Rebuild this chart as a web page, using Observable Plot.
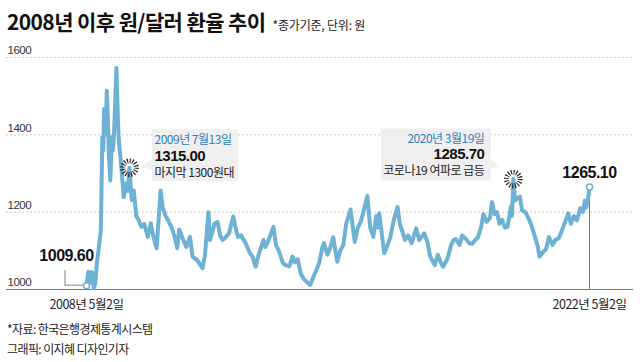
<!DOCTYPE html>
<html><head><meta charset="utf-8">
<script src="https://cdn.jsdelivr.net/npm/d3@7"></script>
<script src="https://cdn.jsdelivr.net/npm/@observablehq/plot@0.6"></script>
<style>
body{margin:0;background:#fff;}
#wrap{position:relative;width:640px;height:362px;overflow:hidden;font-family:"Noto Sans CJK KR",sans-serif;}
#title{position:absolute;left:7px;top:6px;font-size:21px;line-height:30px;font-weight:700;letter-spacing:-0.6px;color:#111;white-space:nowrap;}
#title span{font-size:12px;font-weight:400;letter-spacing:-0.2px;margin-left:7px;color:#222;}
#chart{position:absolute;left:0;top:40px;}
.cap{position:absolute;left:7px;font-size:12px;line-height:18px;letter-spacing:-0.6px;color:#222;white-space:nowrap;}
</style></head><body>
<div id="wrap">
<div id="title">2008년 이후 원/달러 환율 추이<span>*종가기준, 단위: 원</span></div>
<div id="chart"></div>
<div class="cap" style="top:320px">*자료: 한국은행경제통계시스템</div>
<div class="cap" style="top:340px">그래픽: 이지혜 디자인기자</div>
</div>
<script>
// ---- data ----
const dates = [
"2008-05-02","2008-05-20","2008-06-10","2008-06-25","2008-07-15","2008-07-30","2008-08-15","2008-09-05","2008-09-25","2008-10-10","2008-10-20","2008-10-28","2008-11-10","2008-11-18","2008-11-24","2008-12-05","2008-12-15","2008-12-30",
"2009-01-15","2009-01-25","2009-02-01","2009-02-10","2009-02-20","2009-03-02","2009-03-10","2009-03-20","2009-03-27","2009-04-05","2009-04-20","2009-05-15","2009-06-05","2009-06-25","2009-07-13","2009-08-05","2009-08-25","2009-09-20","2009-10-15","2009-11-10","2009-12-10",
"2010-01-15","2010-02-15","2010-03-10","2010-04-15","2010-05-25","2010-06-15","2010-07-15","2010-08-10","2010-09-15","2010-10-15","2010-11-10","2010-11-30","2010-12-30",
"2011-02-10","2011-03-20","2011-04-15","2011-06-01","2011-07-25","2011-08-20","2011-09-23","2011-10-10","2011-11-25","2011-12-25",
"2012-01-20","2012-02-15","2012-03-20","2012-04-20","2012-06-01","2012-06-25","2012-07-20","2012-08-20","2012-10-05","2012-11-15","2012-12-15",
"2013-01-15","2013-02-15","2013-04-05","2013-04-25","2013-05-15","2013-07-15","2013-08-10","2013-09-05","2013-10-20","2013-11-15","2013-12-25",
"2014-01-25","2014-02-20","2014-03-20","2014-04-20","2014-05-25","2014-07-25","2014-08-20","2014-09-25","2014-10-25","2014-11-25","2014-12-10",
"2015-01-15","2015-02-15","2015-03-15","2015-04-25","2015-05-25","2015-06-25","2015-07-25","2015-09-07","2015-10-20","2015-11-20","2015-12-20",
"2016-01-25","2016-02-25","2016-03-25","2016-04-25","2016-05-25","2016-06-10","2016-06-25","2016-07-25","2016-08-15","2016-09-10","2016-10-15","2016-11-20","2016-12-28",
"2017-01-20","2017-03-15","2017-04-15","2017-05-20","2017-07-05","2017-08-05","2017-09-25","2017-10-25","2017-11-25",
"2018-01-10","2018-02-10","2018-03-15","2018-04-05","2018-05-20","2018-06-25","2018-07-20","2018-08-15","2018-09-20","2018-10-15","2018-11-25","2018-12-25",
"2019-01-25","2019-02-25","2019-03-25","2019-04-25","2019-05-20","2019-06-20","2019-07-25","2019-08-15","2019-09-10","2019-10-05","2019-10-30","2019-11-25","2019-12-25",
"2020-01-20","2020-02-25","2020-03-05","2020-03-19","2020-04-05","2020-04-25","2020-05-25","2020-06-15","2020-07-20","2020-08-20","2020-09-20","2020-10-25","2020-11-25","2020-12-10",
"2021-01-10","2021-02-15","2021-03-15","2021-04-20","2021-05-20","2021-06-25","2021-07-25","2021-08-20","2021-09-28","2021-10-25","2021-11-25","2021-12-25",
"2022-01-28","2022-02-25","2022-03-15","2022-03-30","2022-04-25","2022-05-02"
];
const values = [
1009.6,1046,1018,1045,1003,1015,1068,1110,1153,1394,1360,1467,1400,1460,1514,1445,1350,1282,
1394,1360,1378,1430,1500,1573,1500,1420,1385,1360,1320,1239,1274,1255,1315,1231,1256,1190,1179,1162,1170,
1136,1171,1140,1107,1256,1213,1190,1179,1160,1136,1107,1155,1136,
1110,1136,1085,1076,1055,1090,1200,1128,1170,1175,
1140,1128,1136,1145,1189,1160,1136,1140,1120,1095,1085,
1059,1090,1128,1110,1120,1162,1115,1102,1068,1063,1060,
1085,1070,1078,1040,1025,1012,1030,1050,1070,1110,1120,
1090,1110,1135,1072,1100,1115,1170,1207,1123,1160,1175,
1210,1242,1160,1136,1190,1160,1197,1135,1094,1110,1135,1180,1213,
1170,1128,1140,1120,1158,1128,1145,1125,1085,
1063,1090,1068,1059,1080,1115,1128,1130,1115,1140,1130,1120,
1118,1128,1135,1160,1195,1175,1185,1226,1195,1200,1170,1180,1160,
1162,1215,1190,1285.7,1230,1235,1240,1205,1200,1184,1165,1136,1108,1085,
1095,1105,1136,1115,1128,1133,1153,1170,1197,1170,1190,1179,
1210,1200,1230,1212,1248,1265.1
];
const yTicks = [1000, 1200, 1400, 1600];
const gridTicks = [1200, 1400, 1600];
const startLabel = "1009.60";
const endLabel = "1265.10";
const axisLabels = ["2008년 5월2일", "2022년 5월2일"];
const annoDates = ["2009-07-13", "2020-03-19"];
const annoDateText = ["2009년 7월13일", "2020년 3월19일"];
const annoValues = [1315.00, 1285.70];
const annoValueText = ["1315.00", "1285.70"];
const annoNotes = ["마지막 1300원대", "코로나19 여파로 급등"];

// ---- build ----
const parse = d3.utcParse("%Y-%m-%d");
const data = dates.map((d, i) => ({date: parse(d), value: values[i]}));
const start = data[0], end = data[data.length - 1];
const annos = annoDates.map((d, i) => ({date: parse(d), value: annoValues[i], dt: annoDateText[i], vt: annoValueText[i], note: annoNotes[i]}));

const LINE = "#6db2d5";
const BLUE = "#2f80bd";
const KR = "Noto Sans CJK KR";
const NUM = "Liberation Sans";

const boxes = (index, {x, y}) => {
  const g = d3.create("svg:g");
  // 2009 callout (box to the right)
  const ax = x(annos[0].date), ay = y(annos[0].value);
  g.append("rect").attr("x", ax + 23).attr("y", ay - 38).attr("width", 86).attr("height", 52).attr("fill", "#efefef");
  g.append("path").attr("d", `M${ax+23},${ay-8}L${ax+12},${ay}L${ax+23},${ay+2}Z`).attr("fill", "#efefef");
  // 2020 callout (box to the left)
  const bx = x(annos[1].date), by = y(annos[1].value);
  g.append("rect").attr("x", bx - 132).attr("y", by - 50).attr("width", 110).attr("height", 52).attr("fill", "#efefef");
  g.append("path").attr("d", `M${bx-22},${by-20}L${bx-14},${by-12}L${bx-22},${by-10}Z`).attr("fill", "#efefef");
  // leader for start label
  const sx = x(start.date), sy = y(start.value);
  g.append("path").attr("d", `M${sx-3},${sy}H${sx-21}V${sy-15}`).attr("fill", "none").attr("stroke", "#aaa").attr("stroke-width", 1.5);
  return g.node();
};

const chart = Plot.plot({
  width: 640,
  height: 272,
  marginLeft: 86,
  marginRight: 51,
  marginTop: 17,
  marginBottom: 23,
  style: {fontFamily: KR, background: "transparent", overflow: "visible"},
  x: {type: "utc", domain: [start.date, end.date], axis: null},
  y: {domain: [1000, 1600], axis: null},
  marks: [
    Plot.ruleY(gridTicks, {stroke: "#c8c8c8", strokeDasharray: "2,2", insetLeft: -80, insetRight: -44}),
    Plot.ruleY([1000], {stroke: "#777", strokeWidth: 1, insetLeft: -80, insetRight: -44}),
    Plot.text(yTicks, {y: d => d, text: d => String(d), frameAnchor: "left", dx: -79, dy: -7, textAnchor: "start", fontSize: 11.5, fill: "#333", fontFamily: NUM}),
    boxes,
    Plot.ruleX([end], {x: "date", y1: () => 1000, y2: "value", stroke: "#777", strokeWidth: 1}),
    Plot.line(data, {x: "date", y: "value", stroke: LINE, strokeWidth: 4, strokeLinejoin: "round"}),
    Plot.dot(annos, {x: "date", y: "value", r: 6.8, fill: "none", stroke: "#222", strokeWidth: 5, strokeDasharray: "1.1,1.57"}),
    Plot.dot([start, end], {x: "date", y: "value", r: 3, fill: "white", stroke: LINE, strokeWidth: 1.5}),
    Plot.text([start], {x: "date", y: "value", text: () => startLabel, dx: -20, dy: -30, fontSize: 16, fontWeight: "bold", fill: "#111", fontFamily: NUM}),
    Plot.text([end], {x: "date", y: "value", text: () => endLabel, dy: -14, fontSize: 16, fontWeight: "bold", fill: "#111", fontFamily: NUM}),
    Plot.text([start, end], {x: "date", y: () => 1000, text: (d, i) => axisLabels[i], dy: 15, fontSize: 12.5, fill: "#222"}),
    // 2009 callout text
    Plot.text([annos[0]], {x: "date", y: "value", text: "dt", dx: 25, dy: -28, textAnchor: "start", fontSize: 12, fill: BLUE}),
    Plot.text([annos[0]], {x: "date", y: "value", text: "vt", dx: 25, dy: -12, textAnchor: "start", fontSize: 15, fontWeight: "bold", fill: "#111", fontFamily: NUM}),
    Plot.text([annos[0]], {x: "date", y: "value", text: "note", dx: 25, dy: 5, textAnchor: "start", fontSize: 12, fill: "#222"}),
    // 2020 callout text
    Plot.text([annos[1]], {x: "date", y: "value", text: "dt", dx: -29, dy: -40, textAnchor: "end", fontSize: 12, fill: BLUE}),
    Plot.text([annos[1]], {x: "date", y: "value", text: "vt", dx: -29, dy: -25, textAnchor: "end", fontSize: 15, fontWeight: "bold", fill: "#111", fontFamily: NUM}),
    Plot.text([annos[1]], {x: "date", y: "value", text: "note", dx: -29, dy: -8, textAnchor: "end", fontSize: 12, fill: "#222"})
  ]
});
chart.style.letterSpacing = "-0.5px";
document.getElementById("chart").appendChild(chart);
</script>
</body></html>
